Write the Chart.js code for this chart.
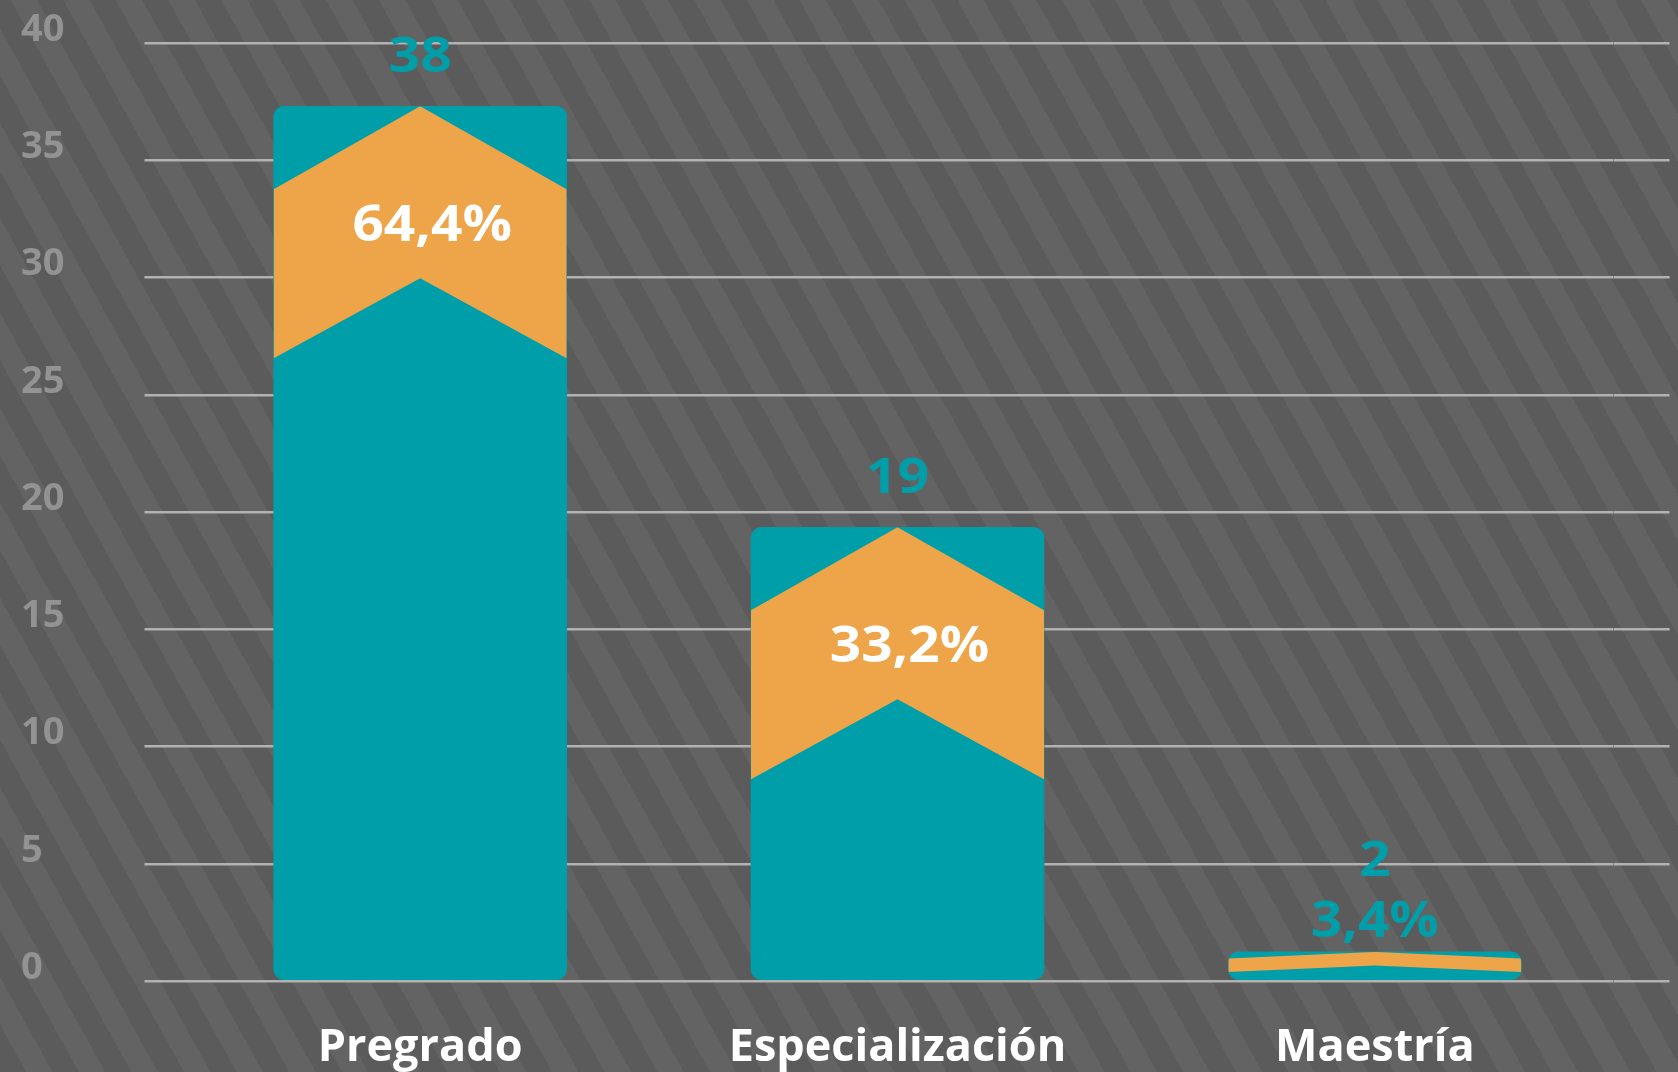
<!DOCTYPE html>
<html>
<head>
<meta charset="utf-8">
<title>Nivel de formación</title>
<script src="https://cdn.jsdelivr.net/npm/chart.js@4.4.1/dist/chart.umd.min.js"></script>
<style>
  html, body { margin: 0; padding: 0; }
  body {
    width: 1678px; height: 1072px; overflow: hidden;
    background: repeating-linear-gradient(61deg,
      #5b5b5b 0px, #5b5b5b 23px, #636363 23px, #636363 46px);
  }
  canvas { display: block; }
</style>
</head>
<body>
<canvas id="chart" width="1678" height="1072"></canvas>
<script>
'use strict';

// ── DATA ──────────────────────────────────────────────────────────
const CATEGORIES     = ['Pregrado', 'Especialización', 'Maestría'];
const COUNTS         = [38, 19, 2];                 // labels above the bars
const BAR_HEIGHTS    = [37.3, 19.35, 1.24];         // drawn heights
const PERCENT_LABELS = ['64,4%', '33,2%', '3,4%'];
const Y_MIN = 0, Y_MAX = 40, Y_STEP = 5;

// ── STYLE ─────────────────────────────────────────────────────────
const TEAL      = '#009ea9';
const ORANGE    = '#eea54a';
const GRID      = '#b2b2b2';
const FONT      = '"Open Sans", "DejaVu Sans", sans-serif';

// wide bold text, as in the reference
function wideText(ctx, text, x, y, stretch) {
  ctx.save();
  ctx.translate(x, y);
  ctx.scale(stretch, 1);
  ctx.fillText(text, 0, 0);
  ctx.restore();
}

// ── CHEVRON INSIDE EACH BAR ───────────────────────────────────────
const chevronPlugin = {
  id: 'chevron',
  afterDatasetsDraw(chart) {
    const ctx = chart.ctx;
    chart.getDatasetMeta(0).data.forEach(bar => {
      const { x, y, base, width } = bar.getProps(['x', 'y', 'base', 'width'], true);
      const left = x - width / 2, right = x + width / 2;
      const h = base - y;
      const s = Math.min(1, h / 350);
      ctx.save();
      ctx.beginPath();
      ctx.roundRect(left, y, width, h, Math.min(11, h / 2));
      ctx.clip();
      ctx.beginPath();
      ctx.moveTo(left, y + 83 * s);
      ctx.lineTo(x, y);
      ctx.lineTo(right, y + 83 * s);
      ctx.lineTo(right, y + 252 * s);
      ctx.lineTo(x, y + 172 * s);
      ctx.lineTo(left, y + 252 * s);
      ctx.closePath();
      ctx.fillStyle = ORANGE;
      ctx.fill();
      ctx.restore();
    });
  }
};

// ── VALUE + PERCENT LABELS ────────────────────────────────────────
const labelPlugin = {
  id: 'barLabels',
  afterDatasetsDraw(chart) {
    const ctx = chart.ctx;
    chart.getDatasetMeta(0).data.forEach((bar, i) => {
      const { x, y, base } = bar.getProps(['x', 'y', 'base'], true);
      const h = base - y;
      ctx.save();
      ctx.textAlign = 'center';
      ctx.textBaseline = 'alphabetic';
      if (h > 150) {
        ctx.font = `700 50px ${FONT}`;
        ctx.fillStyle = '#ffffff';
        wideText(ctx, PERCENT_LABELS[i], x + 12, y + 135, 1.1);
        ctx.font = `700 49px ${FONT}`;
        ctx.fillStyle = TEAL;
        wideText(ctx, String(COUNTS[i]), x, y - 34, 1.13);
      } else {
        // short bar: percent sits above it in teal, count above that
        ctx.font = `700 50px ${FONT}`;
        ctx.fillStyle = TEAL;
        wideText(ctx, PERCENT_LABELS[i], x, y - 15, 1.1);
        ctx.font = `700 49px ${FONT}`;
        wideText(ctx, String(COUNTS[i]), x, y - 76, 1.13);
      }
      ctx.restore();
    });
  }
};

new Chart(document.getElementById('chart'), {
  type: 'bar',
  data: {
    labels: CATEGORIES,
    datasets: [{
      data: BAR_HEIGHTS,
      backgroundColor: TEAL,
      borderWidth: 0,
      borderRadius: 11,
      borderSkipped: false,
      barThickness: 293
    }]
  },
  options: {
    responsive: false,
    animation: false,
    devicePixelRatio: 1,
    layout: { padding: { left: 21, right: 8.5, top: 43, bottom: 0 } },
    plugins: { legend: { display: false }, tooltip: { enabled: false } },
    scales: {
      x: {
        grid: { display: false },
        border: { display: false },
        afterFit: s => { s.height = 91; },
        ticks: {
          autoSkip: false,
          maxRotation: 0,
          padding: 32,
          color: '#ffffff',
          font: { family: FONT, size: 45, weight: '700' }
        }
      },
      y: {
        min: Y_MIN,
        max: Y_MAX,
        grid: { color: GRID, lineWidth: 2.5, drawTicks: true, tickLength: 37 },
        border: { display: false },
        afterFit: s => { s.width = 160.5; },
        ticks: {
          stepSize: Y_STEP,
          crossAlign: 'far',
          labelOffset: -13,
          color: '#939393',
          font: { family: FONT, size: 38, weight: '700' }
        }
      },
      // right-hand stub: only carries the gridlines a little past the last bar
      y2: {
        position: 'right',
        min: Y_MIN,
        max: Y_MAX,
        grid: { color: GRID, lineWidth: 2.5, drawOnChartArea: false, drawTicks: true, tickLength: 56 },
        border: { display: false },
        afterFit: s => { s.width = 56; },
        ticks: { stepSize: Y_STEP, display: false }
      }
    }
  },
  plugins: [chevronPlugin, labelPlugin]
});
</script>
</body>
</html>
